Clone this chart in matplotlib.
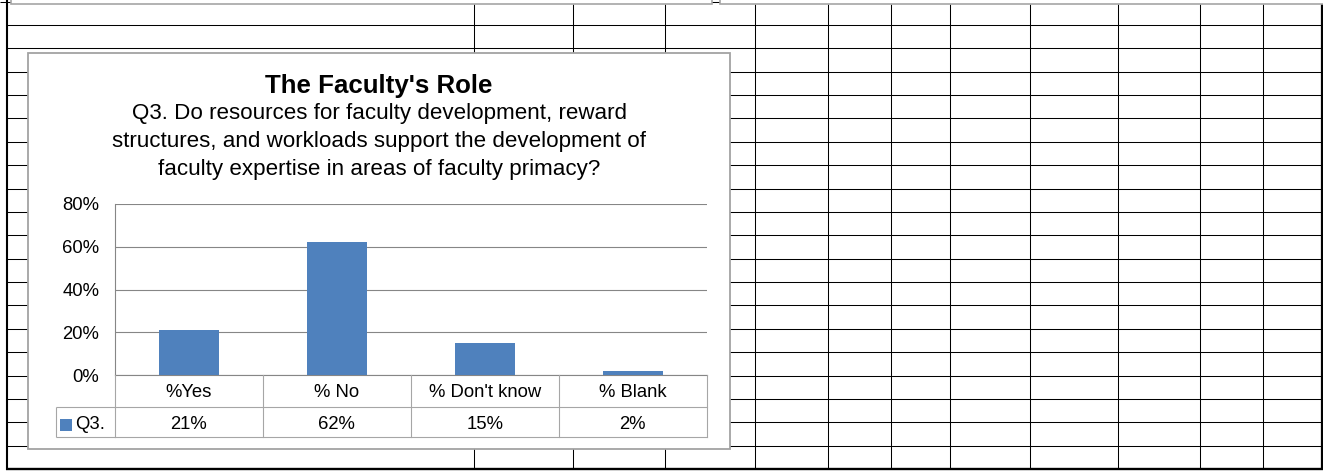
import matplotlib
matplotlib.use("Agg")
import matplotlib.pyplot as plt
from matplotlib.lines import Line2D
from matplotlib.patches import Rectangle
from matplotlib.ticker import PercentFormatter

plt.rcParams["font.family"] = ["Liberation Sans", "DejaVu Sans"]

# ---- data -------------------------------------------------------------
title = "The Faculty's Role"
subtitle_lines = [
    "Q3. Do resources for faculty development, reward",
    "structures, and workloads support the development of",
    "faculty expertise in areas of faculty primacy?",
]
categories = ["%Yes", "% No", "% Don't know", "% Blank"]
series_name = "Q3."
values = [0.21, 0.62, 0.15, 0.02]
y_ticks = [0.0, 0.2, 0.4, 0.6, 0.8]

# ---- canvas helpers (pixel coordinates, y downward) --------------------
W, H = 1323, 471
fig = plt.figure(figsize=(W / 100, H / 100), dpi=100)
fig.patch.set_facecolor("white")


def fx(x):
    return x / W


def fy(y):
    return 1 - y / H


def hline(y, x0, x1, color="black", lw=0.75, z=-5):
    fig.add_artist(Line2D([fx(x0), fx(x1)], [fy(y), fy(y)], color=color,
                          lw=lw, zorder=z, transform=fig.transFigure,
                          solid_capstyle="butt"))


def vline(x, y0, y1, color="black", lw=0.75, z=-5):
    fig.add_artist(Line2D([fx(x), fx(x)], [fy(y0), fy(y1)], color=color,
                          lw=lw, zorder=z, transform=fig.transFigure,
                          solid_capstyle="butt"))


# ---- worksheet cell grid behind the chart -----------------------------
row_step = 23.37
for k in range(-1, 19):
    y = 25 + row_step * k
    hline(y, 0 if k < 0 else 6.5, 1322)
for x in [474, 573, 665, 755, 828, 891, 950, 1030, 1118, 1200, 1263]:
    vline(x, 4, 468.5)
vline(6.5, 0, 469.5, lw=1.5)
vline(1322, 0, 469.5, lw=1.6)
hline(468.7, 5.8, 1323, lw=1.7)

# bottoms of the neighbouring charts peeking in at the top edge
for x0, x1 in [(10.7, 712), (720, 1340)]:
    fig.add_artist(Rectangle((fx(x0), fy(4)), fx(x1) - fx(x0), fy(-40) - fy(4),
                             transform=fig.transFigure, facecolor="white",
                             edgecolor="#a6a6a6", lw=1.2, zorder=-3))

# ---- chart frame -------------------------------------------------------
cx0, cx1, cy0, cy1 = 28, 730, 53, 449
fig.add_artist(Rectangle((fx(cx0), fy(cy1)), fx(cx1) - fx(cx0), fy(cy0) - fy(cy1),
                         transform=fig.transFigure, facecolor="white",
                         edgecolor="#a3a3a3", lw=1.3, zorder=-1))

ccx = (cx0 + cx1) / 2
fig.text(fx(ccx), fy(93.3), title, ha="center", va="baseline",
         fontsize=18.6, fontweight="bold", color="black")
for i, line in enumerate(subtitle_lines):
    fig.text(fx(ccx), fy(119.3 + 27.9 * i), line, ha="center",
             va="baseline", fontsize=16.1, color="black")

# ---- plot area -----------------------------------------------------------
px0, px1, py_top, py_bot = 114.7, 706.7, 204, 375
ax = fig.add_axes([fx(px0), fy(py_bot), fx(px1) - fx(px0), fy(py_top) - fy(py_bot)])
ax.patch.set_alpha(0)
ax.set_zorder(1)

n = len(categories)
xpos = list(range(n))
ax.bar(xpos, values, width=0.405, color="#4f81bd", zorder=3)

ax.set_xlim(-0.5, n - 0.5)
ax.set_ylim(y_ticks[0], y_ticks[-1])
ax.set_yticks(y_ticks)
ax.yaxis.set_major_formatter(PercentFormatter(1.0, decimals=0))
ax.set_xticks([])
ax.tick_params(axis="y", length=0, pad=11, labelsize=13.3, labelcolor="black")
ax.grid(axis="y", color="#868686", lw=0.8, zorder=0)
for side in ["top", "right"]:
    ax.spines[side].set_visible(False)
ax.spines["left"].set_color("#868686")
ax.spines["bottom"].set_color("#868686")
ax.spines["left"].set_linewidth(0.8)
ax.spines["bottom"].set_linewidth(0.8)

# ---- data table under the axis ------------------------------------------
ph = py_bot - py_top


def ay(py):
    return (py_bot - py) / ph


xt = ax.get_xaxis_transform()
tcol = "#a6a6a6"
row1_bot, row2_bot = 406.7, 436.7
edges = [i - 0.5 for i in range(n + 1)]
for e in edges:
    ax.plot([e, e], [ay(py_bot), ay(row2_bot)], color=tcol, lw=0.8,
            transform=xt, clip_on=False, zorder=4)
for yb in (row1_bot, row2_bot):
    ax.plot([edges[0], edges[-1]], [ay(yb), ay(yb)], color=tcol, lw=0.8,
            transform=xt, clip_on=False, zorder=4)

legend_x0 = 55.7
for yb in (row1_bot, row2_bot):
    hline(yb, legend_x0, px0, color=tcol, lw=0.8, z=2)
vline(legend_x0, row1_bot, row2_bot, color=tcol, lw=0.8, z=2)

for i, (cat, v) in enumerate(zip(categories, values)):
    ax.text(i, ay(397.3), cat, transform=xt, ha="center", va="baseline",
            fontsize=13.3, color="black", clip_on=False)
    ax.text(i, ay(429.3), f"{v:.0%}", transform=xt, ha="center",
            va="baseline", fontsize=13.3, color="black", clip_on=False)

# series key in the first table column
fig.add_artist(Rectangle((fx(60), fy(431)), fx(71.7) - fx(60), fy(419.3) - fy(431),
                         transform=fig.transFigure, facecolor="#4f81bd",
                         edgecolor="none", zorder=3))
fig.text(fx(75.5), fy(429.3), series_name, ha="left", va="baseline",
         fontsize=13.3, color="black", zorder=3)

fig.savefig("out.png", dpi=100, facecolor="white")
